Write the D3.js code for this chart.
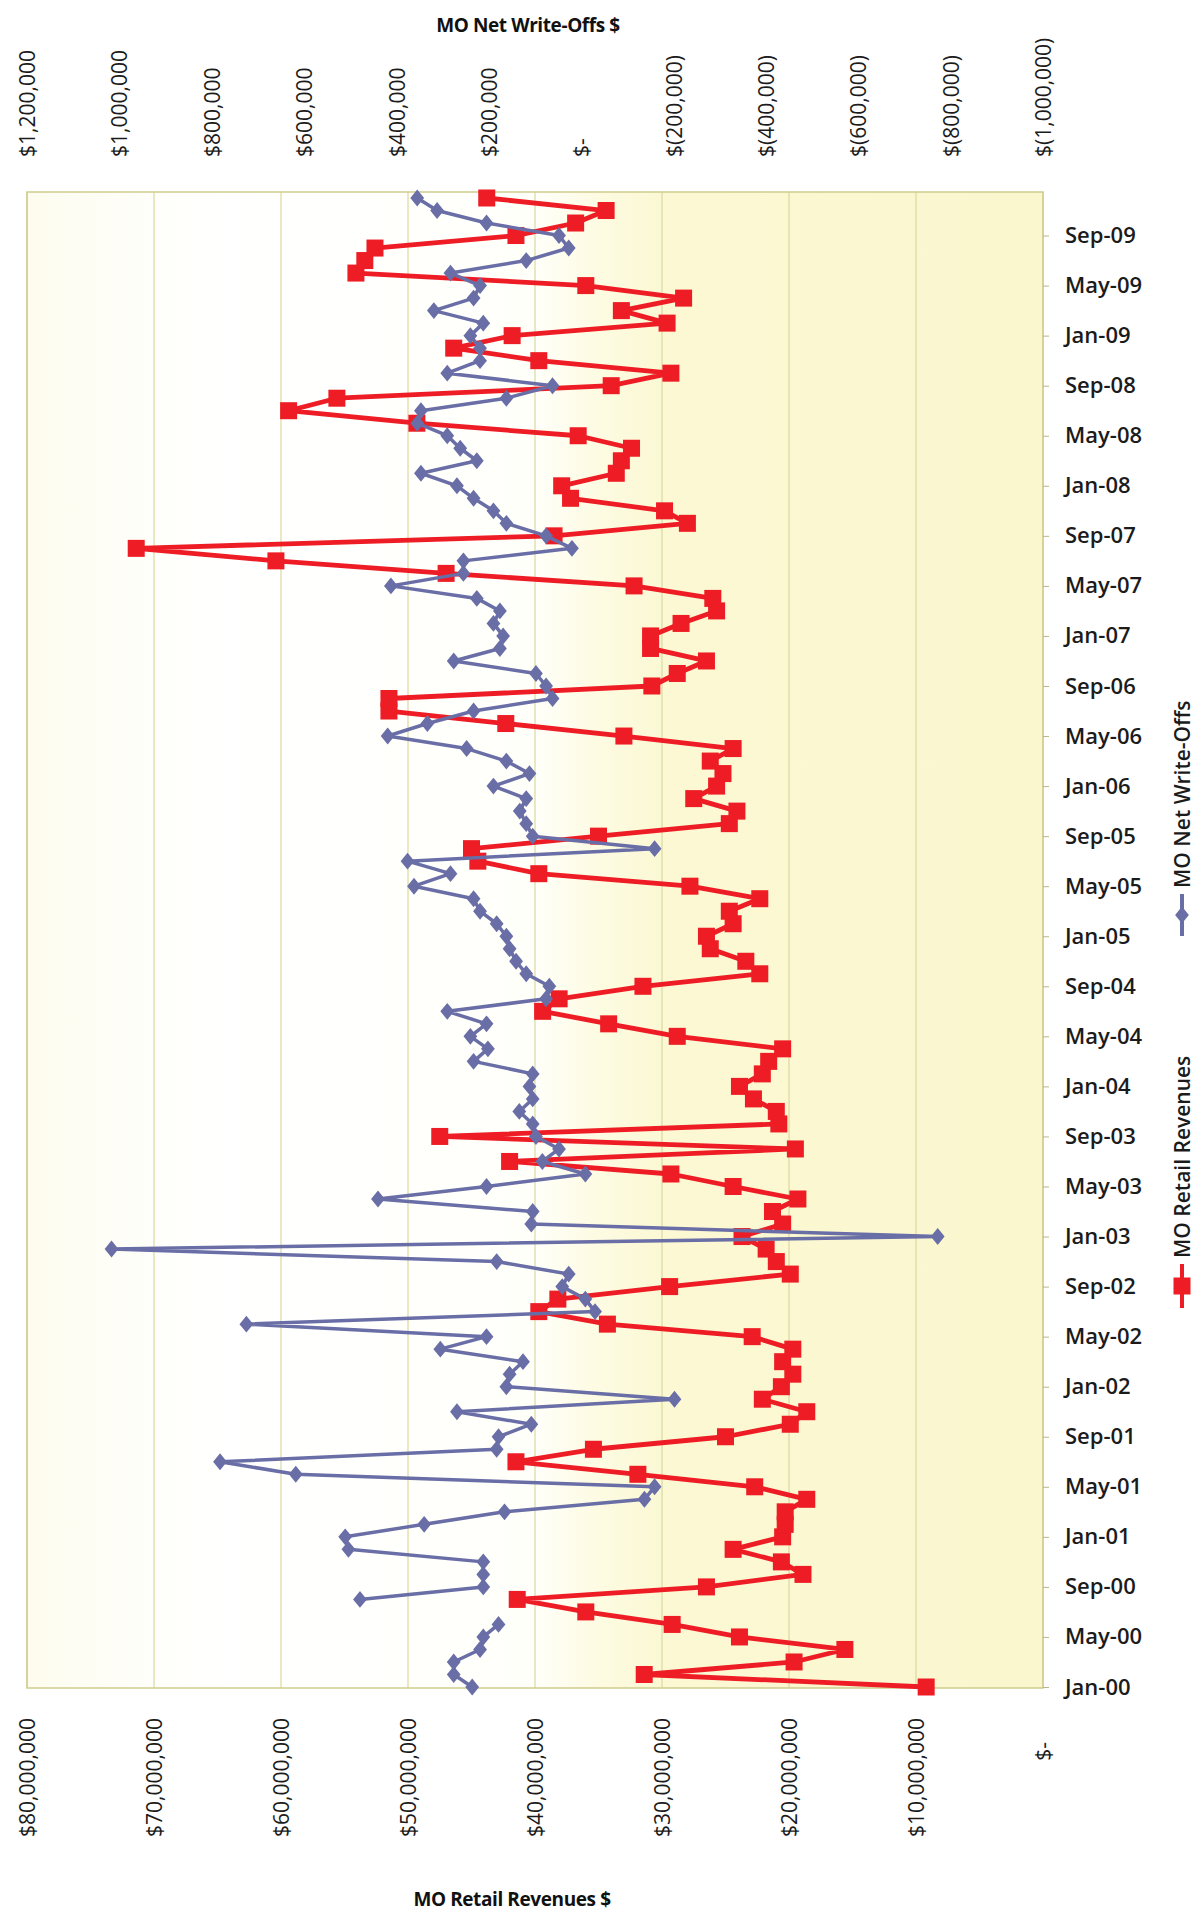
<!DOCTYPE html>
<html><head><meta charset="utf-8">
<script src="https://cdn.jsdelivr.net/npm/d3@7"></script>
<style>html,body{margin:0;padding:0;background:#fff;} svg{display:block;}</style>
</head><body>
<svg id="c" width="1203" height="1915"></svg>
<script>
// ---------- data ----------
const firstMonth = new Date(2000, 0, 1);
const lastMonthExclusive = new Date(2010, 0, 1);
const months = d3.timeMonth.range(firstMonth, lastMonthExclusive);

// MO Retail Revenues, $ millions, Jan..Dec per year
const revenue2000 = [9.2, 31.4, 19.6, 15.6, 23.9, 29.2, 36.0, 41.4, 26.5, 18.9, 20.6, 24.4];
const revenue2001 = [20.5, 20.3, 20.3, 18.6, 22.7, 31.9, 41.5, 35.4, 25.0, 19.9, 18.6, 22.1];
const revenue2002 = [20.6, 19.7, 20.5, 19.7, 22.9, 34.3, 39.7, 38.2, 29.4, 19.9, 21.0, 21.8];
const revenue2003 = [23.7, 20.5, 21.3, 19.3, 24.4, 29.3, 42.0, 19.5, 47.5, 20.8, 21.0, 22.8];
const revenue2004 = [23.9, 22.1, 21.6, 20.5, 28.8, 34.2, 39.4, 38.1, 31.5, 22.3, 23.4, 26.2];
const revenue2005 = [26.5, 24.4, 24.7, 22.3, 27.8, 39.7, 44.5, 45.0, 35.0, 24.7, 24.1, 27.5];
const revenue2006 = [25.7, 25.2, 26.2, 24.4, 33.0, 42.3, 51.5, 51.5, 30.8, 28.8, 26.5, 30.9];
const revenue2007 = [30.9, 28.5, 25.7, 26.0, 32.2, 47.0, 60.4, 71.4, 38.5, 28.0, 29.8, 37.2];
const revenue2008 = [37.9, 33.6, 33.2, 32.4, 36.6, 49.3, 59.4, 55.6, 34.0, 29.3, 39.7, 46.4];
const revenue2009 = [41.8, 29.6, 33.2, 28.3, 36.0, 54.1, 53.4, 52.6, 41.5, 36.8, 34.4, 43.8];

// MO Net Write-Offs, $ thousands, Jan..Dec per year (null = no value)
const writeOffs2000 = [236, 276, 276, 219, 212, 179, null, 479, 212, 212, 212, 504];
const writeOffs2001 = [511, 340, 166, -137, -159, 618, 782, 183, 179, 108, 269, -202];
const writeOffs2002 = [162, 155, 126, 305, 205, 725, -30, -9, 41, 27, 183, 1017];
const writeOffs2003 = [-772, 108, 105, 440, 205, -9, 84, 48, 98, 105, 134, 105];
const writeOffs2004 = [112, 105, 233, 202, 240, 205, 290, 76, 69, 119, 141, 155];
const writeOffs2005 = [162, 183, 219, 233, 362, 283, 376, -159, 105, 119, 133, 119];
const writeOffs2006 = [190, 112, 162, 248, 419, 333, 233, 62, 76, 98, 276, 176];
const writeOffs2007 = [169, 190, 176, 226, 412, 255, 255, 20, 76, 162, 190, 233];
const writeOffs2008 = [269, 347, 226, 262, 290, 355, 347, 162, 62, 290, 219, 219];
const writeOffs2009 = [240, 212, 319, 233, 219, 283, 119, 27, 48, 205, 312, 355];

const revenueTicks = [80e6, 70e6, 60e6, 50e6, 40e6, 30e6, 20e6, 10e6, 0];
const writeOffTicks = [1.2e6, 1e6, 8e5, 6e5, 4e5, 2e5, 0, -2e5, -4e5, -6e5, -8e5, -1e6];
const dateTickEvery = 4;

const titleTop = "MO Net Write-Offs $";
const titleBottom = "MO Retail Revenues $";
const legendRevenue = "MO Retail Revenues";
const legendWriteOffs = "MO Net Write-Offs";

const revenueM = [].concat(revenue2000, revenue2001, revenue2002, revenue2003, revenue2004,
  revenue2005, revenue2006, revenue2007, revenue2008, revenue2009);
const writeOffsK = [].concat(writeOffs2000, writeOffs2001, writeOffs2002, writeOffs2003, writeOffs2004,
  writeOffs2005, writeOffs2006, writeOffs2007, writeOffs2008, writeOffs2009);

const revData = months.map((d, i) => ({date: d, v: revenueM[i] * 1e6}));
const woData = months.map((d, i) => ({date: d, v: writeOffsK[i] == null ? null : writeOffsK[i] * 1e3}));

// ---------- layout ----------
const P = {left: 27, right: 1043, top: 192, bottom: 1688};
const svg = d3.select("#c");
const FONT = "'Open Sans', 'Noto Sans', 'DejaVu Sans', sans-serif";

const y = d3.scalePoint().domain(months).range([1687, 198]);
const xRev = d3.scaleLinear().domain([80e6, 0]).range([P.left, P.right]);
const xWo = d3.scaleLinear().domain([1.2e6, -1e6]).range([P.left, P.right]);

// plot background
const defs = svg.append("defs");
const g0 = defs.append("linearGradient").attr("id", "bg").attr("x1", 0).attr("x2", 1).attr("y1", 0).attr("y2", 0);
[[0, "#fdfcee"], [0.08, "#fefef7"], [0.2, "#ffffff"], [0.5, "#fffffa"], [0.56, "#fdfbe2"], [0.63, "#fbf8d3"], [1, "#faf7cf"]]
  .forEach(([o, c]) => g0.append("stop").attr("offset", o).attr("stop-color", c));
svg.append("rect").attr("x", P.left).attr("y", P.top).attr("width", P.right - P.left).attr("height", P.bottom - P.top)
  .attr("fill", "url(#bg)");

// gridlines (revenue ticks)
svg.append("g").selectAll("line").data(revenueTicks).join("line")
  .attr("x1", d => xRev(d)).attr("x2", d => xRev(d)).attr("y1", P.top).attr("y2", P.bottom)
  .attr("stroke", "#dcd89e").attr("stroke-width", 1.2);

svg.append("rect").attr("x", P.left).attr("y", P.top).attr("width", P.right - P.left).attr("height", P.bottom - P.top)
  .attr("fill", "none").attr("stroke", "#cfcb8e").attr("stroke-width", 1.5);

// ---------- axes ----------
const fmtComma = d3.format(",");
const topFmt = v => v === 0 ? "$-" : (v < 0 ? "$(" + fmtComma(-v) + ")" : "$" + fmtComma(v));
const botFmt = v => v === 0 ? "$-\u2007\u2007" : "$" + fmtComma(v);

const topAxis = svg.append("g").attr("transform", `translate(0,157)`)
  .call(d3.axisTop(xWo).tickValues(writeOffTicks).tickFormat(topFmt).tickSize(0).tickPadding(0));
topAxis.select(".domain").remove();
topAxis.selectAll("text").attr("transform", "rotate(-90)").attr("x", 0).attr("y", 0).attr("dy", "0.36em")
  .attr("text-anchor", "start").style("font-family", FONT).style("font-size", "21px").attr("fill", "#1b1b1b");

const botAxis = svg.append("g").attr("transform", `translate(0,1718)`)
  .call(d3.axisBottom(xRev).tickValues(revenueTicks).tickFormat(botFmt).tickSize(0).tickPadding(0));
botAxis.select(".domain").remove();
botAxis.selectAll("text").attr("transform", "rotate(-90)").attr("x", 0).attr("y", 0).attr("dy", "0.36em")
  .attr("text-anchor", "end").style("font-family", FONT).style("font-size", "21px").attr("fill", "#1b1b1b")
  .style("white-space", "pre");

const dateTicks = months.filter((d, i) => i % dateTickEvery === 0);
const rightAxis = svg.append("g").attr("transform", `translate(${P.right},0)`)
  .call(d3.axisRight(y).tickValues(dateTicks).tickFormat(d3.timeFormat("%b-%y")).tickSize(6).tickPadding(16));
rightAxis.select(".domain").remove();
rightAxis.selectAll("line").attr("stroke", "#b9b68a");
rightAxis.selectAll("text").style("font-family", FONT).style("font-size", "22px").style("font-weight", "600")
  .attr("fill", "#1b1b1b");

// titles
svg.append("text").attr("x", 528).attr("y", 32).attr("text-anchor", "middle")
  .style("font-family", FONT).style("font-size", "19px").style("font-weight", "700").style("letter-spacing", "-0.4px")
  .attr("fill", "#111").text(titleTop);
svg.append("text").attr("x", 512).attr("y", 1906).attr("text-anchor", "middle")
  .style("font-family", FONT).style("font-size", "19px").style("font-weight", "700").style("letter-spacing", "-0.4px")
  .attr("fill", "#111").text(titleBottom);

// ---------- series ----------
const RED = "#ee1c24", BLUE = "#6a6ea6";
const lineRev = d3.line().x(d => xRev(d.v)).y(d => y(d.date));
const lineWo = d3.line().defined(d => d.v != null).x(d => xWo(d.v)).y(d => y(d.date));

svg.append("path").datum(revData).attr("d", lineRev).attr("fill", "none")
  .attr("stroke", RED).attr("stroke-width", 4.8).attr("stroke-linejoin", "round");
const sq = 17;
svg.append("g").selectAll("rect").data(revData).join("rect")
  .attr("x", d => xRev(d.v) - sq / 2).attr("y", d => y(d.date) - sq / 2)
  .attr("width", sq).attr("height", sq).attr("fill", RED);

svg.append("path").datum(woData).attr("d", lineWo).attr("fill", "none")
  .attr("stroke", BLUE).attr("stroke-width", 3.5).attr("stroke-linejoin", "round");
const diamond = d3.symbol().type(d3.symbolDiamond2).size(150);
svg.append("g").selectAll("path").data(woData.filter(d => d.v != null)).join("path")
  .attr("transform", d => `translate(${xWo(d.v)},${y(d.date)}) scale(0.9,1.1)`).attr("d", diamond).attr("fill", BLUE);

// ---------- legend (rotated) ----------
const lgX = 1182;
function legendItem(color, markerFn, text, lineBottom, lineTop, textStart) {
  const g = svg.append("g");
  g.append("line").attr("x1", lgX).attr("x2", lgX).attr("y1", lineBottom).attr("y2", lineTop)
    .attr("stroke", color).attr("stroke-width", 4);
  markerFn(g, lgX, (lineBottom + lineTop) / 2);
  g.append("text").attr("transform", `translate(${lgX},${textStart}) rotate(-90)`).attr("dy", "0.36em")
    .attr("text-anchor", "start").style("font-family", FONT).style("font-size", "21px").style("font-weight", "600")
    .attr("fill", "#1b1b1b").text(text);
}
legendItem(BLUE, (g, cx, cy) => g.append("path").attr("transform", `translate(${cx},${cy}) scale(0.9,1.1)`).attr("d", diamond).attr("fill", BLUE),
  legendWriteOffs, 936, 894, 888);
legendItem(RED, (g, cx, cy) => g.append("rect").attr("x", cx - sq / 2).attr("y", cy - sq / 2).attr("width", sq).attr("height", sq).attr("fill", RED),
  legendRevenue, 1308, 1264, 1258);
</script>
</body></html>
